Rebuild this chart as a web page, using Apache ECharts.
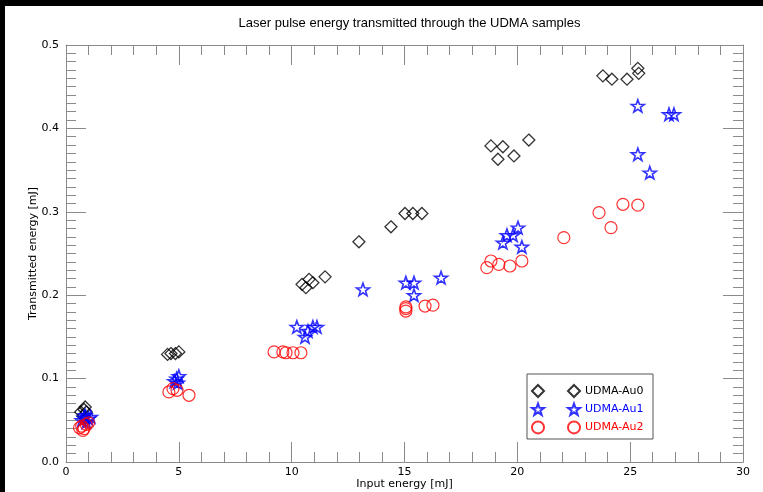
<!DOCTYPE html>
<html>
<head>
<meta charset="utf-8">
<script src="https://cdn.jsdelivr.net/npm/echarts@6/dist/echarts.min.js"></script>
<style>
  html, body { margin: 0; padding: 0; background: #000; }
  #chart { position: absolute; left: 5px; top: 6px; width: 758px; height: 486px; background: #fff; }
</style>
</head>
<body>
<div id="chart"></div>
<script>
// [input energy mJ, transmitted energy mJ]
const au0 = [
  [0.65, 0.060], [0.75, 0.055], [0.8, 0.063], [0.85, 0.066], [0.9, 0.060],
  [4.5, 0.129], [4.65, 0.130], [4.85, 0.130], [5.0, 0.132],
  [10.46, 0.213], [10.63, 0.209], [10.77, 0.219], [10.94, 0.215], [11.48, 0.222],
  [12.98, 0.264], [14.40, 0.282], [15.02, 0.298], [15.37, 0.298], [15.77, 0.298],
  [18.83, 0.379], [19.36, 0.378], [19.14, 0.363], [19.85, 0.367], [20.51, 0.386],
  [23.79, 0.463], [24.19, 0.459], [24.86, 0.459], [25.34, 0.472], [25.38, 0.466]
];
const au1 = [
  [0.7, 0.050], [0.8, 0.053], [0.9, 0.048], [1.0, 0.052], [1.1, 0.054], [0.85, 0.056],
  [4.8, 0.097], [4.9, 0.100], [5.0, 0.103], [4.95, 0.095],
  [10.23, 0.162], [10.59, 0.150], [10.72, 0.157], [10.94, 0.162], [11.12, 0.162],
  [13.16, 0.207], [15.06, 0.215], [15.42, 0.215], [15.42, 0.200], [16.62, 0.221],
  [19.36, 0.263], [19.54, 0.272], [19.81, 0.272], [20.03, 0.281], [20.2, 0.258],
  [25.34, 0.427], [26.72, 0.417], [26.94, 0.417], [25.34, 0.369], [25.87, 0.347]
];
const au2 = [
  [0.6, 0.041], [0.7, 0.043], [0.8, 0.040], [0.9, 0.045], [1.0, 0.047], [0.75, 0.038],
  [4.56, 0.084], [4.74, 0.088], [4.92, 0.086], [5.45, 0.080],
  [9.22, 0.132], [9.61, 0.132], [9.75, 0.131], [10.06, 0.131], [10.41, 0.131],
  [15.06, 0.186], [15.06, 0.181], [15.06, 0.184], [15.91, 0.187], [16.26, 0.188],
  [18.65, 0.233], [18.83, 0.241], [19.18, 0.237], [19.67, 0.235], [20.2, 0.241],
  [22.06, 0.269], [23.62, 0.299], [24.15, 0.281], [24.68, 0.309], [25.34, 0.308]
];
const seriesNames = ['UDMA-Au0', 'UDMA-Au1', 'UDMA-Au2'];
const seriesColors = ['#000000', '#0000ff', '#ff0000'];

const starPath = 'path://M0,-10L2.35,-3.24L9.51,-3.09L3.8,1.24L5.88,8.09L0,4L-5.88,8.09L-3.8,1.24L-9.51,-3.09L-2.35,-3.24Z';
const axisGrey = '#8a8a8a';
const labelFont = 'DejaVu Sans';

let myChart = echarts.init(document.getElementById('chart'));

function axisBase(minorSplit, extra) {
    return Object.assign({
        type: 'value',
        axisLine: { show: true, onZero: false, lineStyle: { color: axisGrey, width: 1 } },
        axisTick: { show: true, inside: true, length: 20, lineStyle: { color: axisGrey, width: 1 } },
        minorTick: { show: true, splitNumber: minorSplit, length: 10, lineStyle: { color: axisGrey, width: 1 } },
        splitLine: { show: false },
        minorSplitLine: { show: false },
        nameMoveOverlap: false
    }, extra);
}

let option = {
    backgroundColor: '#fff',
    animation: false,
    title: {
        text: 'Laser pulse energy transmitted through the UDMA samples',
        left: 399.5,
        textAlign: 'center',
        top: 6,
        textStyle: { fontFamily: 'Liberation Sans', fontWeight: 'normal', fontSize: 13, color: '#000' }
    },
    grid: { left: 61, top: 39, right: 20, bottom: 30, outerBoundsMode: 'none' },
    legend: [{
        orient: 'vertical',
        left: 526, top: 378,
        padding: 0, itemGap: 4.5, itemWidth: 12, itemHeight: 12,
        selectedMode: false,
        formatter: () => '',
        data: seriesNames
    }, {
        orient: 'vertical',
        left: 562, top: 378,
        padding: 0, itemGap: 4.5, itemWidth: 12, itemHeight: 12,
        selectedMode: false,
        textStyle: { fontFamily: labelFont, fontSize: 11 },
        data: seriesNames.map((n, i) => ({ name: n, textStyle: { color: seriesColors[i] } }))
    }],
    graphic: [{
        type: 'rect',
        shape: { x: 522, y: 368, width: 126, height: 65 },
        style: { fill: 'none', stroke: '#555', lineWidth: 1 },
        z: 1
    }],
    xAxis: [
        axisBase(5, {
            min: 0, max: 30, interval: 5, position: 'bottom',
            axisLabel: { fontFamily: labelFont, fontSize: 11, color: '#000', margin: 5 },
            name: 'Input energy [mJ]', nameLocation: 'middle', nameGap: 17,
            nameTextStyle: { fontFamily: labelFont, fontSize: 11, color: '#000' }
        }),
        axisBase(5, {
            min: 0, max: 30, interval: 5, position: 'top',
            axisLabel: { show: false }
        })
    ],
    yAxis: [
        axisBase(10, {
            min: 0, max: 0.5, interval: 0.1, position: 'left',
            axisLabel: { fontFamily: labelFont, fontSize: 11, color: '#000', margin: 7, formatter: v => v.toFixed(1) },
            name: 'Transmitted energy [mJ]', nameLocation: 'middle', nameGap: 27,
            nameTextStyle: { fontFamily: labelFont, fontSize: 11, color: '#000' }
        }),
        axisBase(10, {
            min: 0, max: 0.5, interval: 0.1, position: 'right',
            axisLabel: { show: false }
        })
    ],
    series: [{
        name: seriesNames[0], type: 'scatter', data: au0,
        symbol: 'diamond', symbolSize: 12,
        itemStyle: { color: 'transparent', borderColor: seriesColors[0], borderWidth: 1.3 },
        emphasis: { disabled: true }
    }, {
        name: seriesNames[1], type: 'scatter', data: au1,
        symbol: starPath, symbolSize: 13, symbolKeepAspect: true,
        itemStyle: { color: 'transparent', borderColor: seriesColors[1], borderWidth: 1.6 },
        emphasis: { disabled: true }
    }, {
        name: seriesNames[2], type: 'scatter', data: au2,
        symbol: 'circle', symbolSize: 12,
        itemStyle: { color: 'transparent', borderColor: seriesColors[2], borderWidth: 1.2 },
        emphasis: { disabled: true }
    }]
};
option && myChart.setOption(option);
</script>
</body>
</html>
